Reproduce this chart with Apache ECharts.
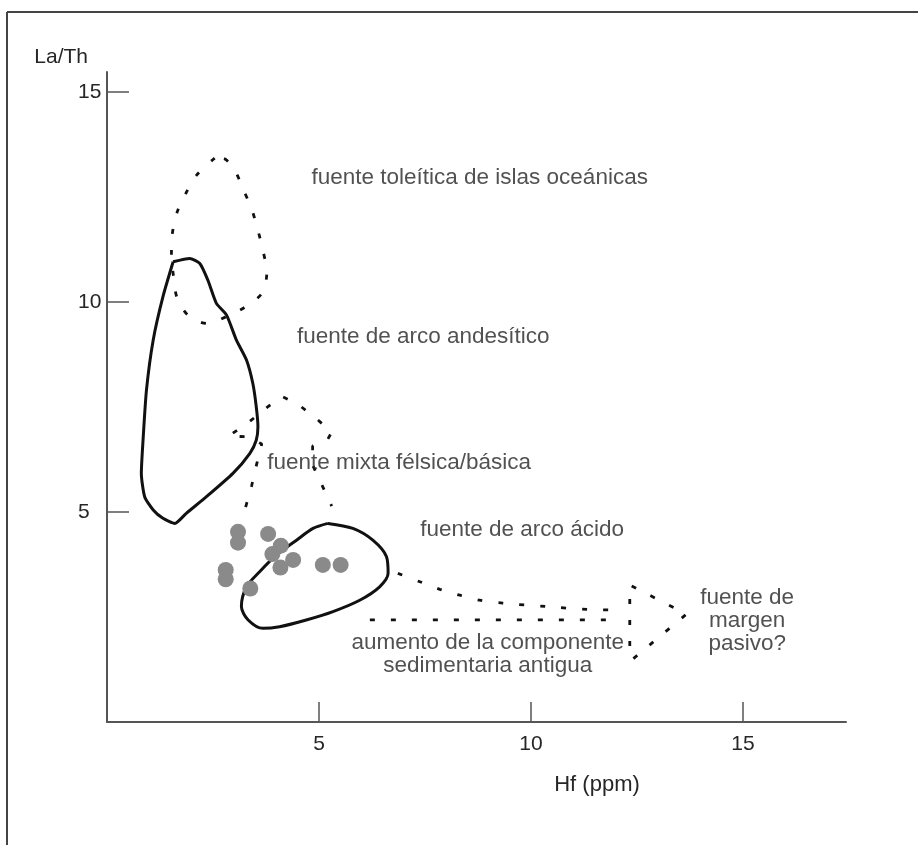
<!DOCTYPE html>
<html><head><meta charset="utf-8">
<script src="https://cdn.jsdelivr.net/npm/echarts@6/dist/echarts.min.js"></script>
<style>html,body{margin:0;padding:0;background:#fff}#c{width:918px;height:845px}</style>
</head><body><div id="c"></div>
<script>
const xAxisTitle = 'Hf (ppm)';
const yAxisTitle = 'La/Th';
const xTickValues = [5, 10, 15];
const yTickValues = [5, 10, 15];

// sample data points [Hf, La/Th]
const samplePoints = [
  [3.09, 4.53], [3.09, 4.27], [3.80, 4.48], [4.10, 4.20], [3.90, 4.00], [4.39, 3.86],
  [4.09, 3.68], [5.09, 3.74], [5.51, 3.74], [2.80, 3.62], [2.80, 3.40], [3.38, 3.18]
];

// field outlines
const tholeiiticField = [
  [2.54, 13.43], [2.11, 13.02], [1.86, 12.59], [1.65, 12.13], [1.54, 11.62], [1.52, 11.12],
  [1.57, 10.60], [1.65, 10.11], [1.91, 9.69], [2.36, 9.49], [2.85, 9.67], [3.27, 9.89],
  [3.66, 10.22], [3.77, 10.72], [3.68, 11.22], [3.56, 11.71], [3.42, 12.19], [3.22, 12.67],
  [3.01, 13.14], [2.75, 13.42], [2.54, 13.43]
];
const andesiticField = [
  [1.56, 10.96], [1.95, 11.04], [2.19, 10.92], [2.38, 10.52], [2.58, 9.97], [2.82, 9.69],
  [3.05, 9.10], [3.29, 8.62], [3.44, 8.06], [3.52, 7.51], [3.56, 7.03], [3.52, 6.71],
  [3.37, 6.40], [2.97, 5.92], [2.34, 5.36], [1.87, 4.97], [1.60, 4.73], [1.32, 4.85],
  [1.09, 5.05], [0.89, 5.36], [0.81, 5.92], [0.85, 6.71], [0.93, 7.90], [1.09, 9.10],
  [1.32, 10.13], [1.56, 10.96]
];
const mixedField = [
  [3.27, 5.12], [3.41, 5.62], [3.53, 6.14], [3.65, 6.62], [3.34, 6.79], [2.87, 6.81],
  [3.32, 7.12], [3.72, 7.45], [4.12, 7.76], [4.50, 7.57], [4.90, 7.26], [5.30, 6.90],
  [5.21, 6.74], [4.85, 6.57], [4.85, 6.12], [5.09, 5.60], [5.30, 5.14]
];
const acidField = [
  [5.21, 4.73], [5.80, 4.61], [6.27, 4.33], [6.59, 3.94], [6.63, 3.54], [6.43, 3.22],
  [5.96, 2.90], [5.33, 2.63], [4.70, 2.43], [4.07, 2.27], [3.68, 2.23], [3.33, 2.43],
  [3.17, 2.75], [3.29, 3.22], [3.60, 3.58], [4.00, 3.98], [4.47, 4.33], [4.86, 4.61],
  [5.21, 4.73]
];
const passiveUpper = [
  [6.86, 3.54], [7.38, 3.34], [7.85, 3.16], [8.32, 3.02], [8.79, 2.90], [9.34, 2.83],
  [10.36, 2.75], [11.34, 2.68], [11.90, 2.67]
];
const passiveLower = [[6.20, 2.43], [11.90, 2.43]];
const passiveHead = [[12.33, 1.81], [12.33, 3.26], [13.67, 2.57], [12.38, 1.48]];

// annotation texts [x, y, text]
const annotations = [
  [8.79, 12.95, 'fuente toleítica de islas oceánicas'],
  [7.46, 9.17, 'fuente de arco andesítico'],
  [6.89, 6.17, 'fuente mixta félsica/básica'],
  [9.79, 4.57, 'fuente de arco ácido'],
  [15.10, 2.40, 'fuente de\nmargen\npasivo?'],
  [8.98, 1.61, 'aumento de la componente\nsedimentaria antigua']
];

const FONT = '"Liberation Sans", Arial, Helvetica, sans-serif';
const TXT = '#262626';
const chart = echarts.init(document.getElementById('c'), null, {renderer: 'canvas'});

const solid = {color: '#111111', width: 3, type: 'solid'};
const dashed = {color: '#111111', width: 2.8, type: [5, 16], cap: 'butt'};
function outline(name, data, style, smooth) {
  return {name: name, type: 'line', data: data, symbol: 'none', smooth: smooth,
    lineStyle: style, silent: true, z: 3};
}

chart.setOption({
  animation: false,
  backgroundColor: '#ffffff',
  grid: {left: 107, right: 72, top: 72, bottom: 123},
  xAxis: {
    type: 'value', min: 0, max: 17.43,
    name: xAxisTitle, nameLocation: 'middle', nameGap: 52,
    nameTextStyle: {fontFamily: FONT, fontSize: 22, color: TXT, padding: [0, 0, 0, 241]},
    axisLine: {show: true, onZero: false, lineStyle: {color: '#555555', width: 2}},
    axisTick: {show: true, inside: true, length: 20, customValues: xTickValues,
      lineStyle: {color: '#555555', width: 1.5}},
    axisLabel: {show: true, customValues: xTickValues, margin: 12,
      fontFamily: FONT, fontSize: 21, color: TXT},
    splitLine: {show: false}
  },
  yAxis: {
    type: 'value', min: 0, max: 15.48,
    name: yAxisTitle, nameLocation: 'end', nameGap: 4,
    nameTextStyle: {fontFamily: FONT, fontSize: 21, color: TXT, align: 'right',
      verticalAlign: 'bottom', padding: [0, 19, 0, 0]},
    axisLine: {show: true, onZero: false, lineStyle: {color: '#555555', width: 2}},
    axisTick: {show: true, inside: true, length: 22, customValues: yTickValues,
      lineStyle: {color: '#555555', width: 1.5}},
    axisLabel: {show: true, customValues: yTickValues, margin: 29, align: 'left',
      fontFamily: FONT, fontSize: 21, color: TXT},
    splitLine: {show: false}
  },
  graphic: [
    {type: 'line', shape: {x1: 7, y1: 12, x2: 918, y2: 12}, style: {stroke: '#444444', lineWidth: 2}, silent: true},
    {type: 'line', shape: {x1: 7, y1: 12, x2: 7, y2: 845}, style: {stroke: '#444444', lineWidth: 2}, silent: true}
  ],
  series: [
    outline('fuente toleítica de islas oceánicas', tholeiiticField, dashed, 0.3),
    outline('fuente de arco andesítico', andesiticField, solid, 0.2),
    outline('fuente mixta félsica/básica', mixedField, dashed, false),
    outline('fuente de arco ácido', acidField, solid, 0.3),
    outline('aumento (superior)', passiveUpper, dashed, 0.3),
    outline('aumento (inferior)', passiveLower, dashed, false),
    outline('fuente de margen pasivo?', passiveHead, dashed, false),
    {
      name: 'muestras', type: 'scatter', data: samplePoints, symbol: 'circle', symbolSize: 16,
      itemStyle: {color: '#8a8a8a', opacity: 1}, z: 5, silent: true
    },
    {
      name: 'etiquetas', type: 'scatter', data: annotations.map(a => ({value: [a[0], a[1]], name: a[2]})),
      symbolSize: 1, itemStyle: {color: 'rgba(0,0,0,0)'}, silent: true, z: 6,
      label: {show: true, position: 'inside', formatter: p => p.name, align: 'center',
        verticalAlign: 'middle', fontFamily: FONT, fontSize: 22.5, lineHeight: 23, color: TXT}
    }
  ]
});
</script>
</body></html>
